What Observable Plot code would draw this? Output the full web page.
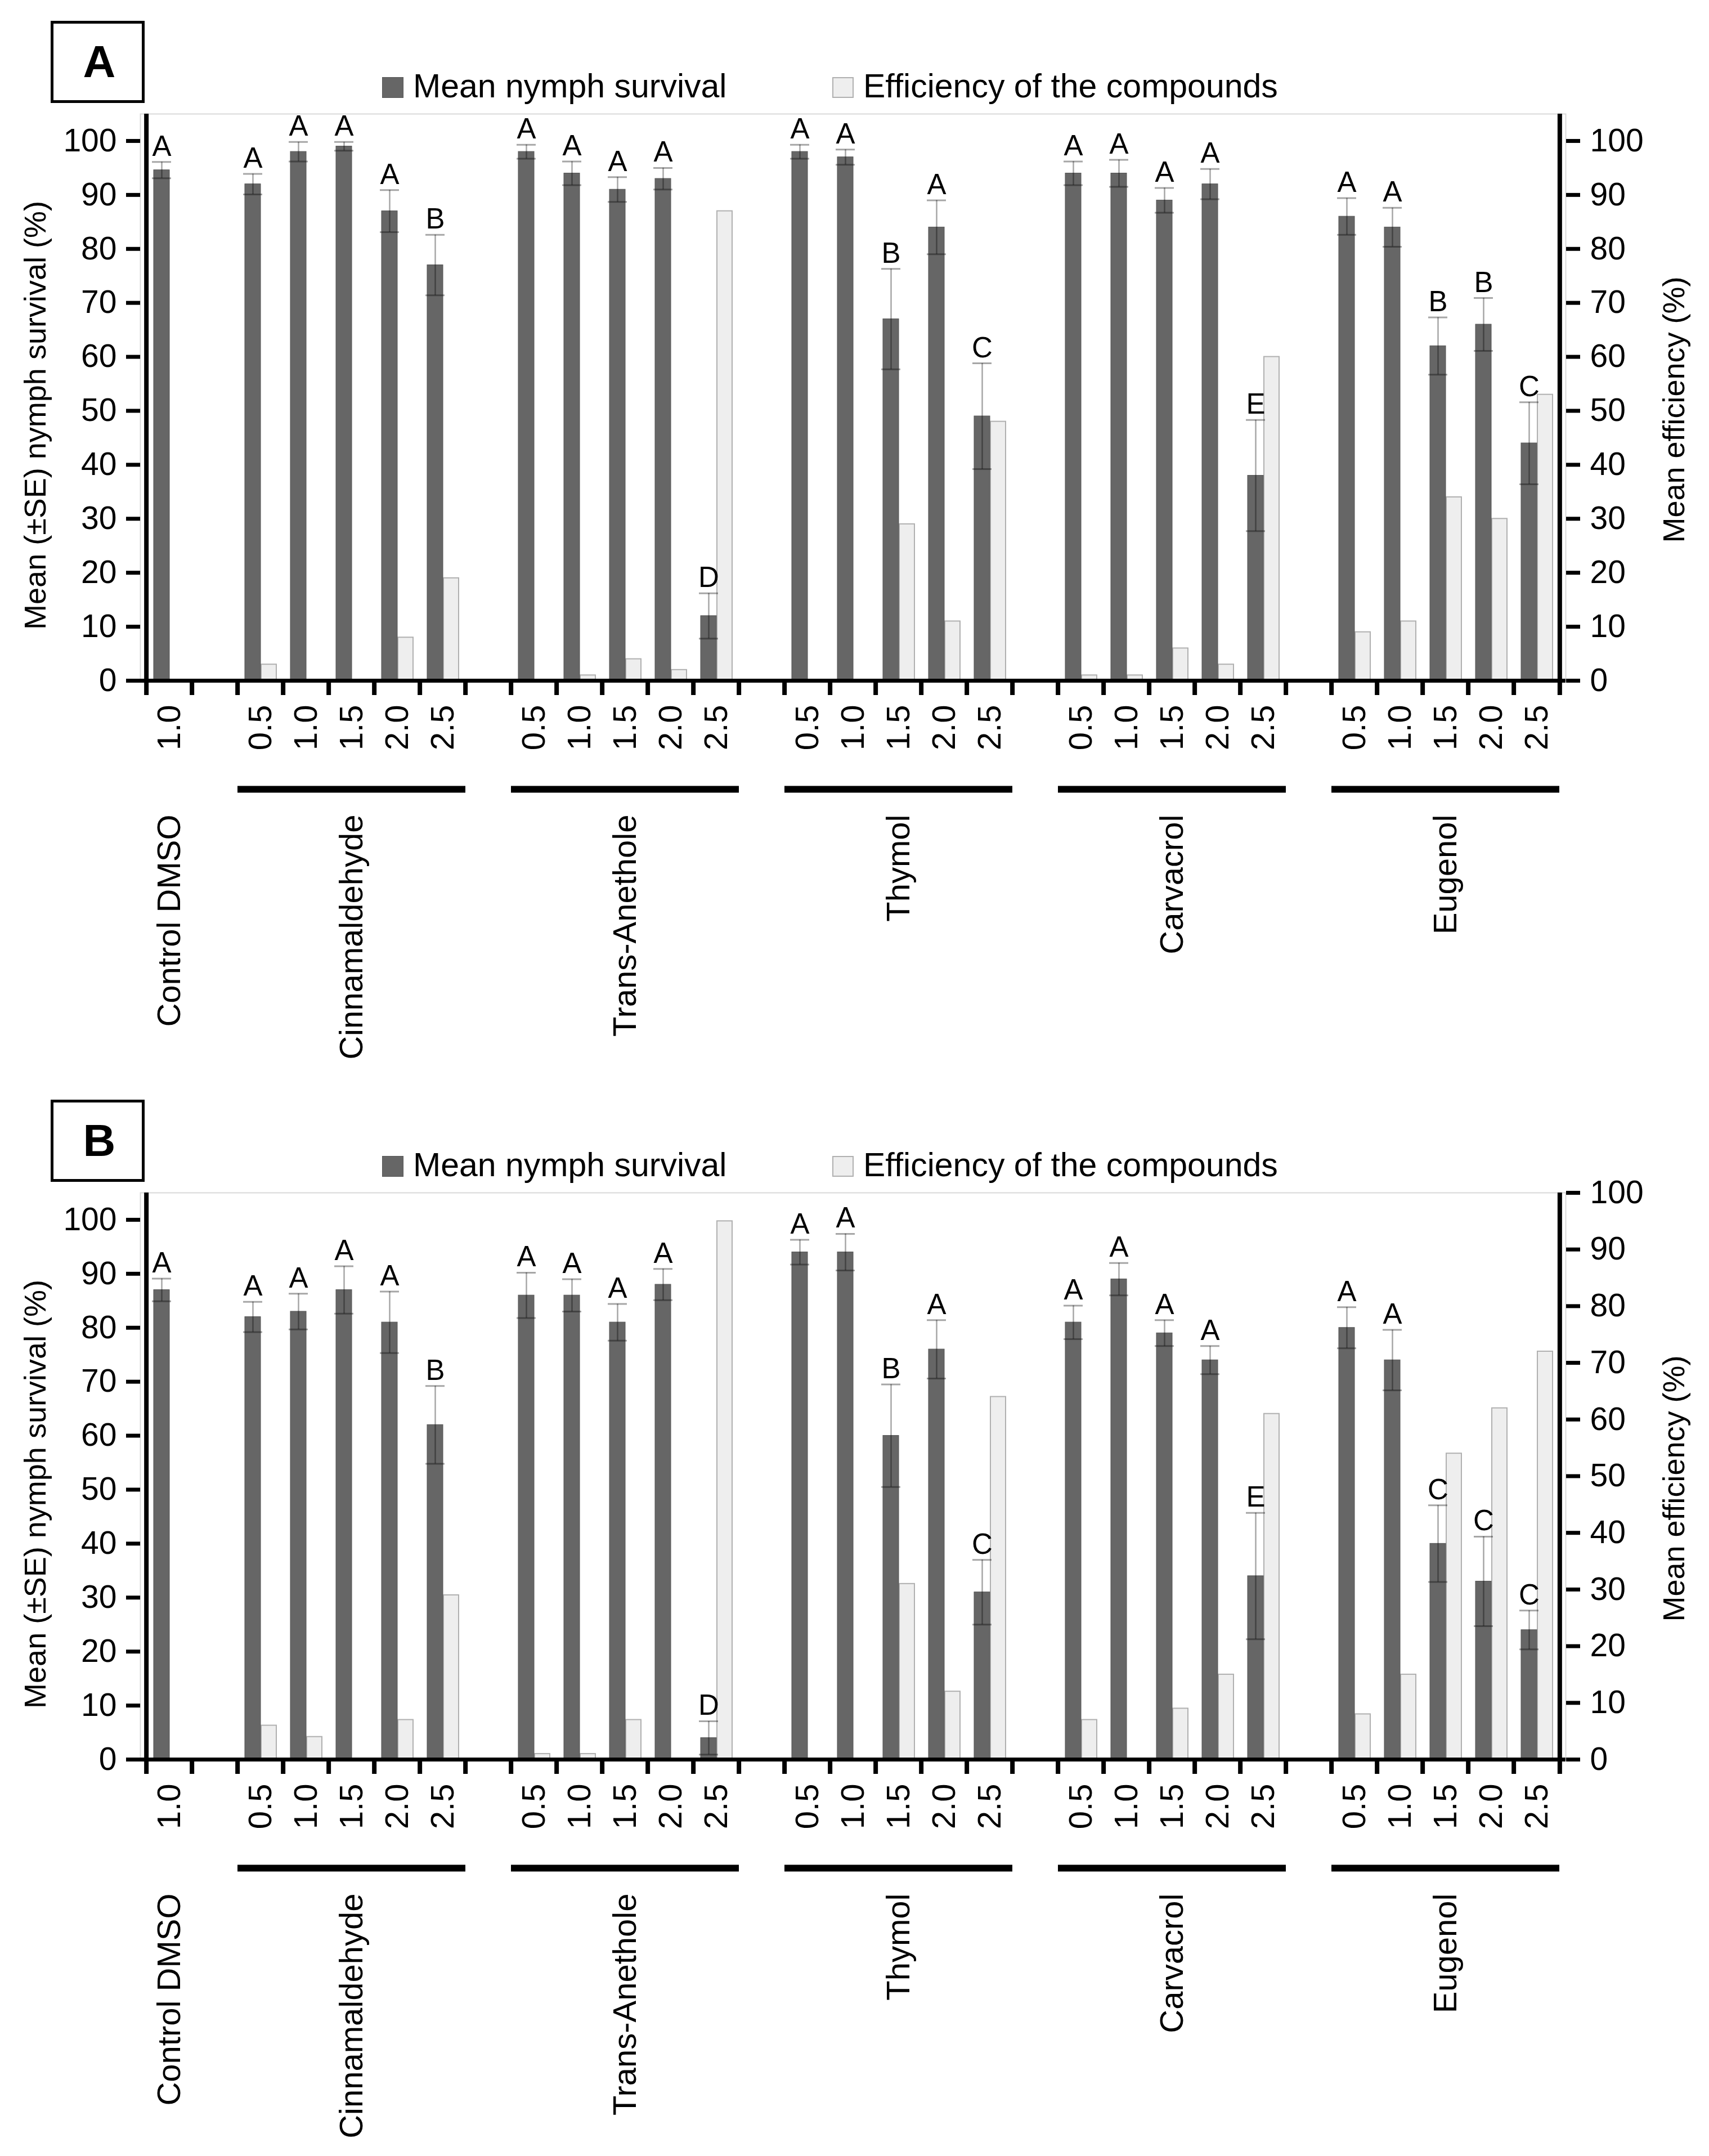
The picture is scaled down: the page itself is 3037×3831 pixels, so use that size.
<!DOCTYPE html>
<html><head><meta charset="utf-8">
<script src="https://cdn.jsdelivr.net/npm/d3@7"></script>
<script src="https://cdn.jsdelivr.net/npm/@observablehq/plot@0.6"></script>
<style>
html,body{margin:0;padding:0;background:#fff;overflow:hidden;width:3037px;height:3831px;}
#page{position:relative;width:3037px;height:3831px;font-family:"Liberation Sans",Arial,Helvetica,sans-serif;color:#000;}
.box{position:absolute;box-sizing:border-box;border:5px solid #000;display:flex;align-items:center;justify-content:center;font-weight:bold;font-size:80px;line-height:1;padding-left:6px;}
.sw{position:absolute;box-sizing:border-box;width:38px;height:37px;}
.lt{position:absolute;font-size:59px;line-height:59px;white-space:nowrap;}
.plot{position:absolute;left:0;}
</style></head><body><div id="page"></div>
<script>
// ---------- categories ----------
const groups = ["Control DMSO", "Cinnamaldehyde", "Trans-Anethole", "Thymol", "Carvacrol", "Eugenol"];
const controlDoses = ["1.0"];
const doses = ["0.5", "1.0", "1.5", "2.0", "2.5"];
const legendLabels = ["Mean nymph survival", "Efficiency of the compounds"];
const leftTitle = "Mean (±SE) nymph survival (%)";
const rightTitle = "Mean efficiency (%)";
const leftTicks = [0, 10, 20, 30, 40, 50, 60, 70, 80, 90, 100];
const rightTicks = [0, 10, 20, 30, 40, 50, 60, 70, 80, 90, 100];

// ---------- panel A ----------
const survivalA = [[94.6], [92, 98, 99, 87, 77], [98, 94, 91, 93, 12], [98, 97, 67, 84, 49], [94, 94, 89, 92, 38], [86, 84, 62, 66, 44]];
const seA       = [[1.5], [1.9, 1.8, 0.8, 3.9, 5.6], [1.3, 2.2, 2.3, 2.0, 4.2], [1.3, 1.4, 9.3, 5.0, 9.8], [2.2, 2.5, 2.3, 2.8, 10.3], [3.4, 3.6, 5.3, 4.9, 7.6]];
const efficiencyA = [[0], [3, 0, 0, 8, 19], [0, 1, 4, 2, 87], [0, 0, 29, 11, 48], [1, 1, 6, 3, 60], [9, 11, 34, 30, 53]];
const lettersA  = [["A"], ["A", "A", "A", "A", "B"], ["A", "A", "A", "A", "D"], ["A", "A", "B", "A", "C"], ["A", "A", "A", "A", "E"], ["A", "A", "B", "B", "C"]];
const rightMaxA = 105;

// ---------- panel B ----------
const survivalB = [[87], [82, 83, 87, 81, 62], [86, 86, 81, 88, 4], [94, 94, 60, 76, 31], [81, 89, 79, 74, 34], [80, 74, 40, 33, 24]];
const seB       = [[2.1], [2.8, 3.3, 4.4, 5.7, 7.2], [4.2, 3.0, 3.4, 2.9, 3.1], [2.3, 3.4, 9.5, 5.4, 6.0], [3.1, 3.0, 2.4, 2.6, 11.7], [3.8, 5.6, 7.1, 8.3, 3.6]];
const efficiencyB = [[0], [6, 4, 0, 7, 29], [1, 1, 7, 0, 95], [0, 0, 31, 12, 64], [7, 0, 9, 15, 61], [8, 15, 54, 62, 72]];
const lettersB  = [["A"], ["A", "A", "A", "A", "B"], ["A", "A", "A", "A", "D"], ["A", "A", "B", "A", "C"], ["A", "A", "A", "A", "E"], ["A", "A", "C", "C", "C"]];
const rightMaxB = 100;

// ---------- slots (band domain) ----------
const slots = [];
const groupInfo = [];
groups.forEach((g, gi) => {
  if (gi > 0) slots.push("gap" + gi);
  const ds = gi === 0 ? controlDoses : doses;
  const keys = ds.map(d => g + "|" + d);
  keys.forEach(k => slots.push(k));
  groupInfo.push({name: g, first: keys[0], last: keys[keys.length - 1], mid: keys[Math.floor(keys.length / 2)], n: keys.length});
});

function buildRows(surv, se, eff, let_) {
  const rows = [];
  groups.forEach((g, gi) => {
    const ds = gi === 0 ? controlDoses : doses;
    ds.forEach((d, di) => rows.push({slot: g + "|" + d, dose: d, mean: surv[gi][di], se: se[gi][di], eff: eff[gi][di], letter: let_[gi][di]}));
  });
  return rows;
}

const W = 3037, ML = 249, MR = W - 2782, MT = 17, INNER = 1007, H = 1714;
const bw = (W - ML - MR) / slots.length;
const font = '"Liberation Sans", Arial, Helvetica, sans-serif';

function panel(rows, rightMax) {
  const k = 105 / rightMax;
  const effRows = rows.filter(d => d.eff > 0);
  const errStyle = {stroke: "#000", strokeOpacity: 0.35};
  return Plot.plot({
    width: W, height: H,
    marginTop: MT, marginBottom: H - MT - INNER, marginLeft: ML, marginRight: MR,
    x: {type: "band", domain: slots, padding: 0},
    y: {domain: [0, 105]},
    style: {fontFamily: font, color: "#000", background: "transparent", maxWidth: "none", overflow: "visible"},
    marks: [
      Plot.frame({stroke: "#d9d9d9", strokeWidth: 2}),
      Plot.barY(effRows, {x: "slot", y: d => d.eff * k, fill: "#eeeeee", stroke: "#b0b0b0", strokeWidth: 2, insetLeft: 42, insetRight: 12}),
      Plot.barY(rows, {x: "slot", y: "mean", fill: "#666666", stroke: "#555555", strokeWidth: 1, insetLeft: 13, insetRight: 40}),
      Plot.ruleX(rows, {x: "slot", y1: d => d.mean - d.se, y2: d => d.mean + d.se, dx: -13.5, strokeWidth: 2.5, ...errStyle}),
      Plot.tickY(rows, {x: "slot", y: d => d.mean + d.se, insetLeft: 10, insetRight: 37, strokeWidth: 3, ...errStyle}),
      Plot.tickY(rows, {x: "slot", y: d => d.mean - d.se, insetLeft: 10, insetRight: 37, strokeWidth: 3, ...errStyle}),
      Plot.text(rows, {x: "slot", y: d => d.mean + d.se, text: "letter", dx: -13.5, dy: -11, lineAnchor: "bottom", fontSize: 51, fill: "#000"}),
      Plot.ruleY([0], {stroke: "#000", strokeWidth: 7}),
      Plot.ruleX([slots[0]], {x: d => d, dx: -bw / 2, stroke: "#000", strokeWidth: 8}),
      Plot.ruleX([slots[slots.length - 1]], {x: d => d, dx: bw / 2, stroke: "#000", strokeWidth: 8}),
      Plot.axisY({anchor: "left", ticks: leftTicks, tickSize: 25, tickPadding: 17, strokeWidth: 7, fontSize: 57, label: null}),
      Plot.axisY({anchor: "right", ticks: rightTicks.map(v => v * k), tickFormat: v => String(Math.round(v / k)), tickSize: 25, tickPadding: 18, strokeWidth: 7, fontSize: 57, label: null}),
      Plot.axisX({ticks: slots, tickSize: 26, dx: -bw / 2, strokeWidth: 8, tickFormat: () => "", label: null}),
      Plot.axisX({ticks: [slots[slots.length - 1]], tickSize: 26, dx: bw / 2, strokeWidth: 8, tickFormat: () => "", label: null}),
      Plot.text(rows, {x: "slot", text: "dose", frameAnchor: "bottom", dy: 43, rotate: -90, textAnchor: "end", lineAnchor: "middle", fontSize: 58, fill: "#000"}),
      Plot.ruleY(groupInfo.filter(g => g.n > 1), {x1: "first", x2: "last", y: () => 0, dy: 193, stroke: "#000", strokeWidth: 12}),
      Plot.text(groupInfo, {x: "mid", text: "name", frameAnchor: "bottom", dy: 238, rotate: -90, textAnchor: "end", lineAnchor: "middle", fontSize: 58, fill: "#000"}),
      Plot.text([leftTitle], {text: d => d, frameAnchor: "left", dx: -186, dy: 32, rotate: -90, textAnchor: "middle", lineAnchor: "middle", fontSize: 54, fill: "#000"}),
      Plot.text([rightTitle], {text: d => d, frameAnchor: "right", dx: 193, dy: 22, rotate: -90, textAnchor: "middle", lineAnchor: "middle", fontSize: 54, fill: "#000"})
    ]
  });
}

const page = document.getElementById("page");
function addPanel(letter, offset, rows, rightMax) {
  const box = document.createElement("div");
  box.className = "box";
  box.textContent = letter;
  Object.assign(box.style, {left: "90px", top: (37 + offset) + "px", width: "167px", height: "146px"});
  page.appendChild(box);
  const sw1 = document.createElement("div");
  sw1.className = "sw";
  Object.assign(sw1.style, {left: "679px", top: (137 + offset) + "px", background: "#666666", border: "1px solid #555555"});
  page.appendChild(sw1);
  const t1 = document.createElement("div");
  t1.className = "lt"; t1.textContent = legendLabels[0];
  Object.assign(t1.style, {left: "734px", top: (124 + offset) + "px"});
  page.appendChild(t1);
  const sw2 = document.createElement("div");
  sw2.className = "sw";
  Object.assign(sw2.style, {left: "1479px", top: (137 + offset) + "px", background: "#eeeeee", border: "2px solid #b0b0b0"});
  page.appendChild(sw2);
  const t2 = document.createElement("div");
  t2.className = "lt"; t2.textContent = legendLabels[1];
  Object.assign(t2.style, {left: "1534px", top: (124 + offset) + "px"});
  page.appendChild(t2);
  const wrap = document.createElement("div");
  wrap.className = "plot";
  wrap.style.top = (185 + offset) + "px";
  wrap.appendChild(panel(rows, rightMax));
  page.appendChild(wrap);
}

addPanel("A", 0, buildRows(survivalA, seA, efficiencyA, lettersA), rightMaxA);
addPanel("B", 1917, buildRows(survivalB, seB, efficiencyB, lettersB), rightMaxB);
</script></body></html>
